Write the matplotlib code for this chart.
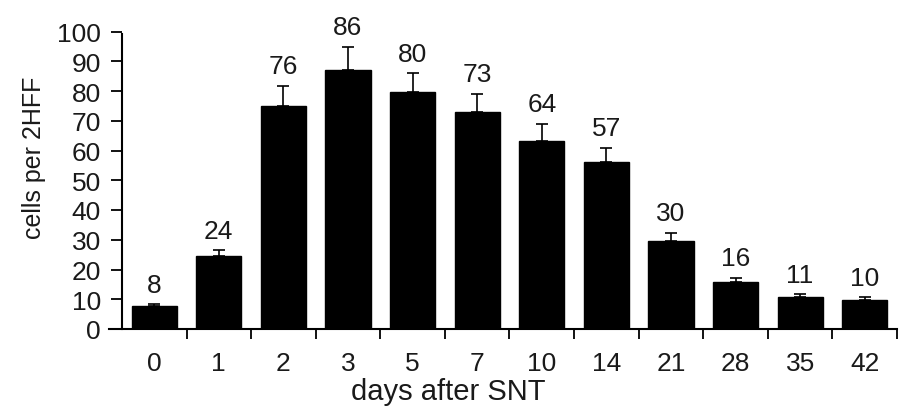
import matplotlib
matplotlib.use("Agg")
import matplotlib.pyplot as plt
import numpy as np

days = ['0', '1', '2', '3', '5', '7', '10', '14', '21', '28', '35', '42']
value_labels = [8, 24, 76, 86, 80, 73, 64, 57, 30, 16, 11, 10]
bar_heights = [7.6, 24.5, 75, 87, 79.5, 72.8, 63.3, 56, 29.6, 15.7, 10.6, 9.6]
errors = [0.8, 2.0, 6.7, 7.8, 6.5, 6.3, 5.7, 5.0, 2.7, 1.5, 1.0, 1.1]

plt.rcParams['font.family'] = ['Liberation Sans', 'DejaVu Sans']

fig = plt.figure(figsize=(9.11, 4.10), dpi=100)
ax = fig.add_axes([109 / 911, 80 / 410, 788 / 911, 297.5 / 410])

x = np.arange(len(days))
ax.bar(x, bar_heights, width=0.7, color='black', edgecolor='black', zorder=2)
ax.errorbar(x, bar_heights, yerr=[np.zeros(len(errors)), errors], fmt='none',
            ecolor='black', elinewidth=1.2, capsize=4, capthick=1.2, zorder=3)

tops = np.array(bar_heights) + np.array(errors)
for xi, t, lab in zip(x, tops, value_labels):
    ax.annotate(str(lab), (xi, t), xytext=(0, 9), textcoords='offset points',
                ha='center', va='baseline', fontsize=19, color='#1a1a1a')

ax.set_xlim(-0.7, 11.5)
ax.set_ylim(0, 100)
ax.spines['left'].set_position(('data', -0.5))
ax.spines['left'].set_bounds(0, 99)
ax.spines['top'].set_visible(False)
ax.spines['right'].set_visible(False)
for s in ['left', 'bottom']:
    ax.spines[s].set_linewidth(1.5)

ax.set_yticks(np.arange(0, 101, 10))
ax.tick_params(axis='y', direction='out', length=8, width=1.3, labelsize=19,
               pad=7, labelcolor='#1a1a1a')
ax.set_xticks(x)
ax.set_xticklabels(days)
ax.set_xticks(np.arange(0.5, 11.6, 1), minor=True)
ax.tick_params(axis='x', which='major', length=0, labelsize=19, pad=16,
               labelcolor='#1a1a1a')
ax.tick_params(axis='x', which='minor', direction='out', length=7, width=1.3)

ax.set_ylabel('cells per 2HFF', fontsize=18, color='#1a1a1a')
ax.yaxis.set_label_coords(-0.095, 0.58)
ax.yaxis.label.set_va('center')
ax.yaxis.label.set_ha('center')

ax.set_xlabel('days after SNT', fontsize=21, color='#1a1a1a')
ax.xaxis.set_label_coords(0.43, -0.235)
ax.xaxis.label.set_va('baseline')

fig.savefig('out.png', dpi=100)
